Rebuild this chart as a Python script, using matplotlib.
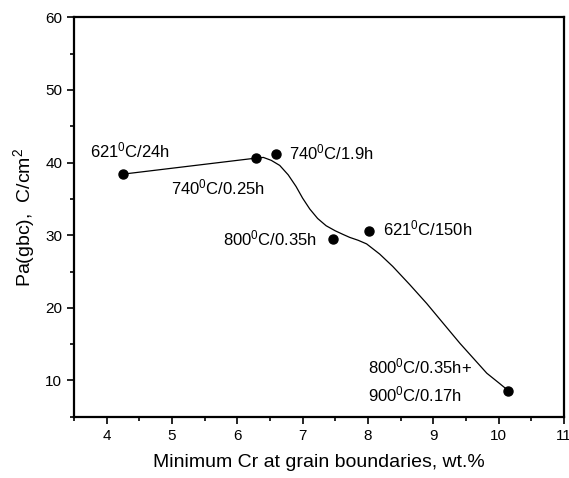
import matplotlib
matplotlib.use("Agg")
import matplotlib.pyplot as plt
from matplotlib.ticker import MultipleLocator

plt.rcParams['font.family'] = ['Liberation Sans', 'DejaVu Sans']
plt.rcParams['mathtext.fontset'] = 'custom'
plt.rcParams['mathtext.rm'] = 'Liberation Sans'
plt.rcParams['mathtext.it'] = 'Liberation Sans'
plt.rcParams['mathtext.default'] = 'regular'

# measured points
cr_min = [4.25, 6.28, 6.60, 7.47, 8.02, 10.15]
pa_gbc = [38.4, 40.6, 41.2, 29.5, 30.6, 8.6]
labels = [r'621$^0$C/24h', r'740$^0$C/0.25h', r'740$^0$C/1.9h',
          r'800$^0$C/0.35h', r'621$^0$C/150h',
          r'800$^0$C/0.35h+' + '\n' + r'900$^0$C/0.17h']
label_x = [3.74, 4.99, 6.79, 5.78, 8.23, 8.00]
label_y = [41.7, 36.5, 41.45, 29.5, 30.9, 10.0]

# trend curve
curve_x = [4.25, 6.28, 6.40, 6.52, 6.65, 6.78, 6.90, 7.00, 7.11, 7.23, 7.36,
           7.50, 7.62, 7.72, 7.85, 7.98, 8.18, 8.38, 8.64, 8.90, 9.15, 9.41,
           9.62, 9.82, 10.0, 10.15]
curve_y = [38.4, 40.6, 40.7, 40.3, 39.6, 38.3, 36.7, 35.1, 33.6, 32.3, 31.3,
           30.6, 30.1, 29.7, 29.3, 28.8, 27.4, 25.7, 23.2, 20.6, 17.9, 15.1,
           13.0, 11.0, 9.7, 8.6]

fig = plt.figure(figsize=(5.69, 4.78), dpi=100)
ax = fig.add_axes([0.130, 0.128, 0.861, 0.836])

ax.plot(curve_x, curve_y, color='black', lw=0.9, zorder=2)
ax.plot(cr_min, pa_gbc, 'o', color='black', ms=6.5, zorder=3)

for t, tx, ty in zip(labels, label_x, label_y):
    ax.text(tx, ty, t, ha='left', va='center', fontsize=12,
            linespacing=1.45)

ax.set_xlim(3.5, 11)
ax.set_ylim(5, 60)
ax.xaxis.set_major_locator(MultipleLocator(1))
ax.xaxis.set_minor_locator(MultipleLocator(0.5))
ax.yaxis.set_major_locator(MultipleLocator(10))
ax.yaxis.set_minor_locator(MultipleLocator(5))
ax.tick_params(which='both', direction='out', width=1.2, labelsize=11)
ax.tick_params(which='major', length=5)
ax.tick_params(which='minor', length=3)
for s in ax.spines.values():
    s.set_linewidth(1.6)

ax.set_xlabel('Minimum Cr at grain boundaries, wt.%', fontsize=14, labelpad=8)
ax.set_ylabel(r'Pa(gbc),  C/cm$^2$', fontsize=14, labelpad=6)

fig.savefig('out.png', dpi=100)
